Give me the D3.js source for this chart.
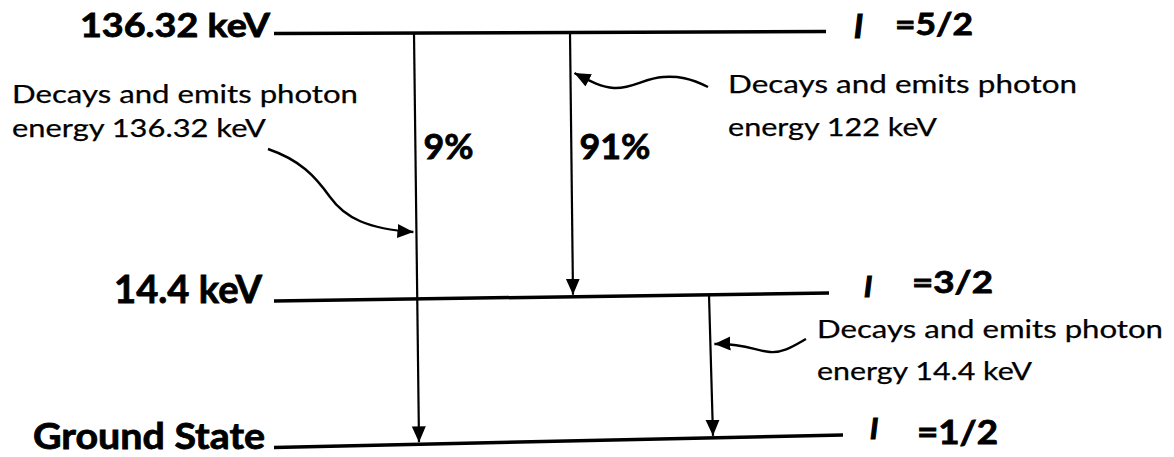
<!DOCTYPE html>
<html>
<head>
<meta charset="utf-8">
<script src="https://cdn.jsdelivr.net/npm/d3@7/dist/d3.min.js"></script>
<style>
  html, body { margin: 0; padding: 0; background: #fff; }
  svg { display: block; }
  text { font-family: Lato, "Open Sans", sans-serif; fill: #000; }
  text.bold { font-weight: 700; stroke: #000; stroke-width: 0.8px; }
  text.note { stroke: #000; stroke-width: 0.25px; }
</style>
</head>
<body>
<script>
// Nuclear energy levels (keV) and their spins
const levelNames = ["136.32 keV", "14.4 keV", "Ground State"];
const levelEnergies = [136.32, 14.4, 0];
const spinValues = ["5/2", "3/2", "1/2"];

// Gamma transitions between levels
const transFrom = ["136.32 keV", "136.32 keV", "14.4 keV"];
const transTo = ["Ground State", "14.4 keV", "Ground State"];
const branchPercent = [9, 91, null];
const photonEnergy = ["136.32", "122", "14.4"];

const W = 1174, H = 457;
const svg = d3.select("body").append("svg").attr("width", W).attr("height", H);

const defs = svg.append("defs");
defs.append("marker")
  .attr("id", "head")
  .attr("viewBox", "0 -8 16 16")
  .attr("refX", 16).attr("refY", 0)
  .attr("markerWidth", 16).attr("markerHeight", 16)
  .attr("markerUnits", "userSpaceOnUse")
  .attr("orient", "auto")
  .append("path").attr("d", "M0,-7 L16,0 L0,7 Z").attr("fill", "#000");

// Level lines are drawn slightly tilted: left and right end heights per level
const yLeft = d3.scaleOrdinal().domain(levelNames).range([33.5, 301, 447.5]);
const yRight = d3.scaleOrdinal().domain(levelNames).range([31.5, 293, 435]);
const xStart = 274;
const xEnd = d3.scaleOrdinal().domain(levelNames).range([826, 829, 843]);

function levelY(name, x) {
  const t = (x - xStart) / (xEnd(name) - xStart);
  return yLeft(name) + (yRight(name) - yLeft(name)) * t;
}

const levels = levelNames.map((name, i) => ({ name, energy: levelEnergies[i], spin: spinValues[i] }));

svg.append("g").selectAll("line").data(levels).join("line")
  .attr("x1", xStart).attr("y1", d => levelY(d.name, xStart))
  .attr("x2", d => xEnd(d.name)).attr("y2", d => levelY(d.name, xEnd(d.name)))
  .attr("stroke", "#000").attr("stroke-width", 3.5);

// Level labels on the left
const labelLayout = {
  "136.32 keV": { x: 80, y: 37, size: 33, w: 190 },
  "14.4 keV": { x: 114, y: 303, size: 38, w: 148 },
  "Ground State": { x: 33, y: 449, size: 37, w: 232 }
};
svg.append("g").selectAll("text").data(levels).join("text")
  .attr("class", "bold")
  .attr("x", d => labelLayout[d.name].x)
  .attr("y", d => labelLayout[d.name].y)
  .attr("font-size", d => labelLayout[d.name].size)
  .attr("textLength", d => labelLayout[d.name].w)
  .attr("lengthAdjust", "spacingAndGlyphs")
  .text(d => d.name);

// Spin labels on the right
const spinLayout = {
  "136.32 keV": { ix: 854, iy: 38, isize: 32, x: 895, y: 35, size: 30, w: 78 },
  "14.4 keV": { ix: 864, iy: 297, isize: 29, x: 912, y: 293, size: 30, w: 81 },
  "Ground State": { ix: 870, iy: 439, isize: 29, x: 917, y: 444, size: 32, w: 81 }
};
const spinG = svg.append("g").selectAll("g").data(levels).join("g");
spinG.append("text")
  .attr("class", "bold")
  .attr("x", d => spinLayout[d.name].ix)
  .attr("y", d => spinLayout[d.name].iy)
  .attr("font-size", d => spinLayout[d.name].isize)
  .attr("font-style", "italic")
  .style("stroke-width", "1.2px")
  .text("I");
spinG.append("text")
  .attr("class", "bold")
  .attr("x", d => spinLayout[d.name].x)
  .attr("y", d => spinLayout[d.name].y)
  .attr("font-size", d => spinLayout[d.name].size)
  .attr("textLength", d => spinLayout[d.name].w)
  .attr("lengthAdjust", "spacingAndGlyphs")
  .text(d => "=" + d.spin);

// Transition arrows
const transitions = transFrom.map((from, i) => ({
  from, to: transTo[i], pct: branchPercent[i], photon: photonEnergy[i]
}));
const xTop = d3.scaleOrdinal().domain([0, 1, 2]).range([414, 570, 709]);
const xBot = d3.scaleOrdinal().domain([0, 1, 2]).range([419, 573, 713]);

function shaftX(i, y) {
  const t = transitions[i];
  const y0 = levelY(t.from, xTop(i));
  const y1 = levelY(t.to, xBot(i));
  return xTop(i) + (xBot(i) - xTop(i)) * (y - y0) / (y1 - y0);
}

svg.append("g").selectAll("line").data(transitions).join("line")
  .attr("x1", (d, i) => xTop(i))
  .attr("y1", (d, i) => levelY(d.from, xTop(i)))
  .attr("x2", (d, i) => xBot(i))
  .attr("y2", (d, i) => levelY(d.to, xBot(i)) - 2)
  .attr("stroke", "#000").attr("stroke-width", 2.2)
  .attr("marker-end", "url(#head)");

// Branching ratios next to the arrows
const pctY = 159;
svg.append("g").selectAll("text").data(transitions.filter(d => d.pct != null)).join("text")
  .attr("class", "bold")
  .attr("x", (d, i) => shaftX(i, pctY) + 8)
  .attr("y", pctY)
  .attr("font-size", 35)
  .attr("textLength", d => d.pct >= 10 ? 71 : 50)
  .attr("lengthAdjust", "spacingAndGlyphs")
  .text(d => d.pct + "%");

// Photon annotations with curved pointers to each transition
const noteLayout = [
  { x: 12, y: 103, dy: 34, w1: 346, w2: 254, tipY: 232, side: -1,
    curve: (tx, ty) => `M268,149 C300,160 315,176 330,197 C345,218 368,229 ${tx},${ty}` },
  { x: 728, y: 93, dy: 43, w1: 349, w2: 209, tipY: 73, side: 1,
    curve: (tx, ty) => `M708,87 C690,78 678,76 663,77 C645,78 632,89 614,88 C600,87 588,80 ${tx},${ty}` },
  { x: 817, y: 338, dy: 42, w1: 346, w2: 215, tipY: 344, side: 1,
    curve: (tx, ty) => `M806,339 C792,347 783,353 770,352 C755,351 745,343 ${tx},${ty}` }
];

const notes = svg.append("g").selectAll("g").data(transitions).join("g");
notes.append("text")
  .attr("class", "note")
  .attr("x", (d, i) => noteLayout[i].x)
  .attr("y", (d, i) => noteLayout[i].y)
  .attr("font-size", 25)
  .attr("textLength", (d, i) => noteLayout[i].w1)
  .attr("lengthAdjust", "spacingAndGlyphs")
  .text("Decays and emits photon");
notes.append("text")
  .attr("class", "note")
  .attr("x", (d, i) => noteLayout[i].x)
  .attr("y", (d, i) => noteLayout[i].y + noteLayout[i].dy)
  .attr("font-size", 25)
  .attr("textLength", (d, i) => noteLayout[i].w2)
  .attr("lengthAdjust", "spacingAndGlyphs")
  .text(d => `energy ${d.photon} keV`);
notes.append("path")
  .attr("d", (d, i) => {
    const L = noteLayout[i];
    const tx = shaftX(i, L.tipY) + (L.side > 0 ? 4 : -3);
    return L.curve(tx, L.tipY);
  })
  .attr("fill", "none").attr("stroke", "#000").attr("stroke-width", 2.4)
  .attr("marker-end", "url(#head)");
</script>
</body>
</html>
